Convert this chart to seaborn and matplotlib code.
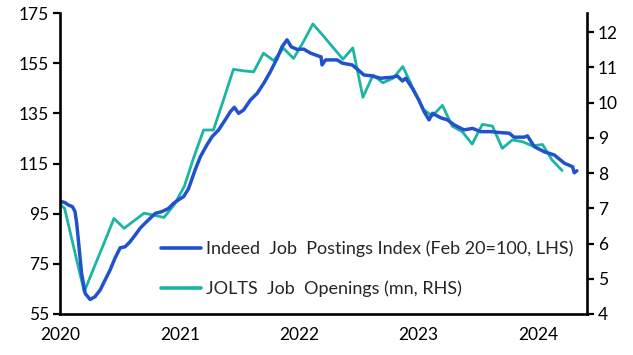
import matplotlib
matplotlib.use("Agg")
import matplotlib.pyplot as plt
import seaborn as sns
import pandas as pd

# ---- data ----
indeed_dates = [
    "2020-02-01", "2020-02-16", "2020-02-26", "2020-03-10", "2020-03-18", "2020-03-23",
    "2020-03-30", "2020-04-07", "2020-04-18", "2020-05-03", "2020-05-18", "2020-06-03",
    "2020-06-18", "2020-07-03", "2020-07-18", "2020-08-03", "2020-08-18", "2020-09-02",
    "2020-09-18", "2020-10-03", "2020-10-18", "2020-11-03", "2020-11-18", "2020-12-08",
    "2020-12-29", "2021-01-13", "2021-01-28", "2021-02-13", "2021-02-28", "2021-03-20",
    "2021-04-05", "2021-04-25", "2021-05-11", "2021-05-31", "2021-06-20", "2021-07-06",
    "2021-07-18", "2021-07-31", "2021-08-15", "2021-09-05", "2021-09-26", "2021-10-16",
    "2021-11-05", "2021-11-26", "2021-12-11", "2021-12-26", "2022-01-08", "2022-01-26",
    "2022-02-15", "2022-03-08", "2022-04-02", "2022-04-09", "2022-04-12", "2022-04-23",
    "2022-05-28", "2022-06-13", "2022-07-13", "2022-07-29", "2022-08-18", "2022-09-08",
    "2022-10-08", "2022-11-13", "2022-11-28", "2022-12-14", "2022-12-24", "2023-01-13",
    "2023-02-02", "2023-02-18", "2023-03-05", "2023-03-16", "2023-04-10", "2023-04-30",
    "2023-05-21", "2023-06-20", "2023-07-16", "2023-08-10", "2023-09-10", "2023-10-11",
    "2023-11-05", "2023-11-20", "2023-12-21", "2023-12-31", "2024-01-21", "2024-02-20",
    "2024-03-22", "2024-04-22", "2024-05-17", "2024-05-22", "2024-05-30",
]
indeed_values = [
    100.0, 99.4, 98.5, 97.8, 95.8, 91.2,
    82.0, 71.2, 63.2, 60.8, 61.9, 64.6,
    68.6, 72.5, 77.2, 81.4, 81.8, 83.8,
    86.5, 89.2, 91.2, 93.2, 95.1, 95.8,
    97.1, 99.1, 100.5, 101.8, 105.0, 112.4,
    117.7, 122.4, 125.7, 128.4, 132.4, 135.7,
    137.4, 135.0, 136.3, 140.3, 143.0, 147.0,
    151.6, 157.0, 161.6, 164.3, 161.5, 160.5,
    160.6, 159.0, 157.8, 157.5, 154.3, 156.3,
    156.3, 155.0, 154.3, 152.6, 150.3, 150.0,
    149.0, 149.4, 149.9, 147.9, 149.0, 145.0,
    140.3, 135.7, 132.4, 135.0, 133.2, 132.4,
    130.4, 128.4, 129.0, 127.7, 127.7, 127.3,
    127.1, 125.5, 125.5, 126.0, 121.7, 119.7,
    118.4, 115.1, 113.7, 111.3, 112.1,
]

# JOLTS monthly, Jan 2020 .. Apr 2024 (plotted mid-month)
jolts_months = [f"{y}-{m:02d}-15" for y in range(2020, 2025) for m in range(1, 13)][:52]
jolts_values = [
    7.25, 7.0, 5.85, 4.63, 5.32, 6.02, 6.71, 6.43, 6.65, 6.86, 6.80, 6.74,
    7.1, 7.62, 8.42, 9.22, 9.22, 10.08, 10.94, 10.90, 10.87, 11.40, 11.19, 11.54,
    11.25, 11.74, 12.23, 11.90, 11.57, 11.23, 11.55, 10.15, 10.78, 10.56, 10.69, 11.02,
    10.41, 9.81, 9.62, 9.92, 9.33, 9.17, 8.82, 9.38, 9.33, 8.70, 8.94, 8.89,
    8.77, 8.81, 8.37, 8.07,
]

year_ticks = ["2020", "2021", "2022", "2023", "2024"]
left_ticks = [55, 75, 95, 115, 135, 155, 175]
right_ticks = [4, 5, 6, 7, 8, 9, 10, 11, 12]

label_indeed = "Indeed  Job  Postings Index (Feb 20=100, LHS)"
label_jolts = "JOLTS  Job  Openings (mn, RHS)"

BLUE = "#2152cc"
TEAL = "#1bb5a3"

indeed = pd.DataFrame({"date": pd.to_datetime(indeed_dates), "value": indeed_values})
jolts = pd.DataFrame({"date": pd.to_datetime(jolts_months), "value": jolts_values})

sns.set_style("white")
plt.rcParams["font.family"] = ["Lato", "DejaVu Sans"]

fig = plt.figure(figsize=(6.33, 3.55), dpi=100)
ax = fig.add_axes([60 / 633, 41 / 355, 527 / 633, 301 / 355])
ax2 = ax.twinx()

sns.lineplot(data=jolts, x="date", y="value", ax=ax2, color=TEAL, linewidth=2.0,
             label=label_jolts, legend=False)
sns.lineplot(data=indeed, x="date", y="value", ax=ax, color=BLUE, linewidth=2.5,
             label=label_indeed, legend=False)

# blue line drawn over teal
ax.set_zorder(ax2.get_zorder() + 1)
ax.patch.set_visible(False)

ax.set_xlim(pd.Timestamp("2020-02-01"), pd.Timestamp("2024-06-30"))
ax.set_xticks([pd.Timestamp(f"{y}-02-01") for y in year_ticks])
ax.set_xticklabels(year_ticks)
ax.set_ylim(55, 175)
ax.set_yticks(left_ticks)
ax2.set_ylim(4, 12.54)
ax2.set_yticks(right_ticks)

for a in (ax, ax2):
    a.set_xlabel("")
    a.set_ylabel("")
    for s in a.spines.values():
        s.set_linewidth(1.9)
        s.set_color("black")
    a.spines["top"].set_visible(False)
    a.tick_params(axis="both", direction="out", length=5, width=1.6,
                  labelsize=12.5, colors="black", pad=3)
ax2.spines["left"].set_visible(False)
ax2.spines["bottom"].set_visible(False)
ax.spines["right"].set_visible(False)
ax.tick_params(axis="x", pad=4)
ax.grid(False)
ax2.grid(False)

h1, l1 = ax.get_legend_handles_labels()
h2, l2 = ax2.get_legend_handles_labels()
leg = ax.legend(h1 + h2, l1 + l2, loc="lower right", bbox_to_anchor=(0.995, 0.02),
                frameon=False, fontsize=13, handlelength=2.2, handletextpad=0.3,
                labelspacing=1.3, borderaxespad=0.2)
for line in leg.get_lines():
    line.set_linewidth(2.6)

fig.savefig("out.png", dpi=100)
